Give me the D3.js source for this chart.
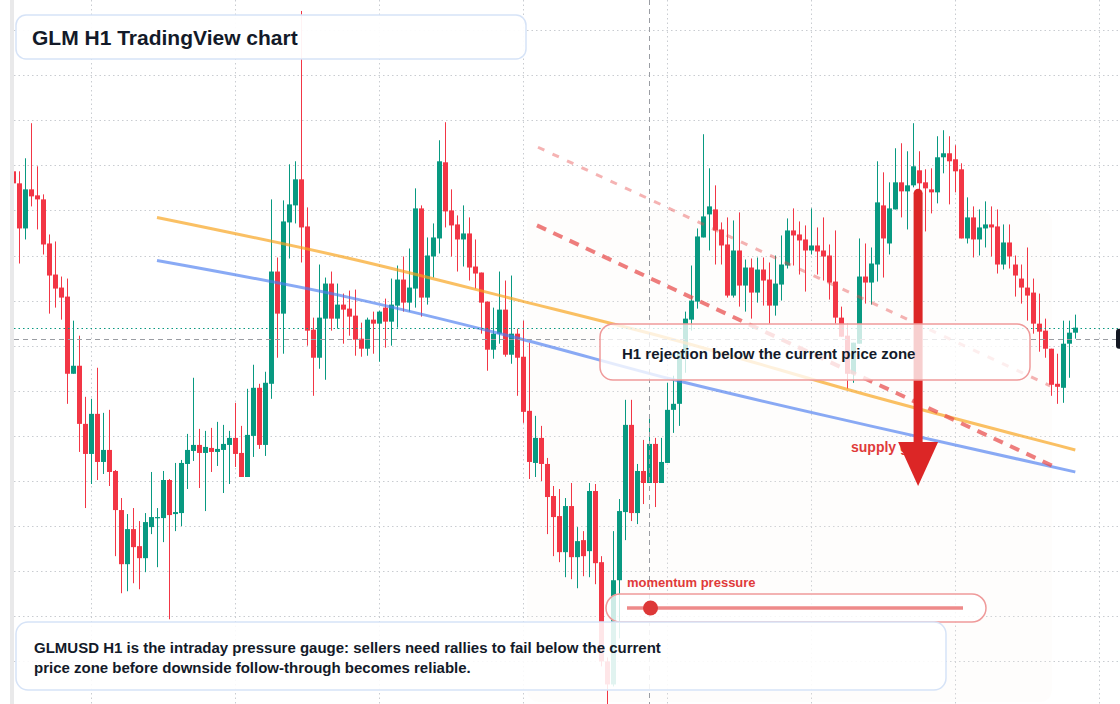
<!DOCTYPE html>
<html>
<head>
<meta charset="utf-8">
<script src="https://cdn.jsdelivr.net/npm/d3@7"></script>
<style>
  html, body { margin: 0; padding: 0; background: #fff; }
  svg { display: block; font-family: "Liberation Sans", Arial, Helvetica, sans-serif; }
</style>
</head>
<body>
<script>
const width = 1120, height = 704;
const upColor = '#089981', downColor = '#f23645';
const textColor = '#131a29';

// GLMUSD H1 candles, oldest first (the first bar sits half under the left edge)
const startTime = Date.UTC(2024, 4, 13, 11);
const open = [
  0.2559,0.2547,0.2502,0.2541,0.2535,0.2531,0.2487,0.2456,0.2443,0.2434,
  0.2357,0.2365,0.2307,0.2277,0.2317,0.2269,0.2281,0.2260,0.2221,0.2167,
  0.2202,0.2185,0.2173,0.2204,0.2213,0.2213,0.2251,0.2217,0.2218,0.2267,
  0.2280,0.2286,0.2278,0.2283,0.2279,0.2281,0.2286,0.2293,0.2278,0.2254,
  0.2295,0.2343,0.2286,0.2347,0.2459,0.2417,0.2508,0.2525,0.2551,0.2504,
  0.2401,0.2373,0.2412,0.2447,0.2412,0.2426,0.2422,0.2415,0.2392,0.2382,
  0.2411,0.2407,0.2423,0.2409,0.2425,0.2451,0.2428,0.2442,0.2522,0.2433,
  0.2474,0.2492,0.2568,0.2520,0.2506,0.2491,0.2497,0.2464,0.2458,0.2429,
  0.2381,0.2397,0.2421,0.2376,0.2397,0.2374,0.2320,0.2268,0.2293,0.2267,
  0.2235,0.2215,0.2179,0.2225,0.2174,0.2191,0.2180,0.2240,0.2169,0.2070,
  0.2047,0.2151,0.2219,0.2306,0.2218,0.2260,0.2248,0.2287,0.2248,0.2268,
  0.2321,0.2327,0.2377,0.2411,0.2429,0.2493,0.2516,0.2521,0.2501,0.2486,
  0.2435,0.2480,0.2445,0.2463,0.2438,0.2461,0.2451,0.2425,0.2446,0.2465,
  0.2500,0.2496,0.2491,0.2480,0.2485,0.2480,0.2475,0.2449,0.2413,0.2395,
  0.2357,0.2387,0.2454,0.2448,0.2466,0.2525,0.2487,0.2521,0.2548,0.2539,
  0.2545,0.2560,0.2548,0.2541,0.2538,0.2573,0.2577,0.2571,0.2561,0.2492,
  0.2513,0.2491,0.2502,0.2506,0.2504,0.2466,0.2488,0.2466,0.2452,0.2443,
  0.2438,0.2407,0.2400,0.2382,0.2347,0.2343,0.2387,0.2398
];
const high = [
  0.2561,0.2559,0.2572,0.2607,0.2564,0.2536,0.2496,0.2489,0.2454,0.2452,
  0.2410,0.2395,0.2334,0.2332,0.2363,0.2318,0.2321,0.2261,0.2233,0.2217,
  0.2223,0.2210,0.2218,0.2259,0.2223,0.2260,0.2252,0.2268,0.2271,0.2297,
  0.2353,0.2302,0.2300,0.2303,0.2309,0.2306,0.2300,0.2328,0.2305,0.2342,
  0.2366,0.2347,0.2359,0.2531,0.2473,0.2530,0.2566,0.2569,0.2719,0.2523,
  0.2413,0.2466,0.2453,0.2459,0.2447,0.2437,0.2440,0.2441,0.2408,0.2413,
  0.2419,0.2420,0.2432,0.2452,0.2465,0.2474,0.2482,0.2542,0.2525,0.2493,
  0.2507,0.2590,0.2608,0.2541,0.2515,0.2525,0.2513,0.2491,0.2458,0.2429,
  0.2423,0.2459,0.2450,0.2455,0.2402,0.2410,0.2388,0.2315,0.2305,0.2273,
  0.2245,0.2242,0.2233,0.2248,0.2204,0.2200,0.2248,0.2247,0.2175,0.2074,
  0.2200,0.2232,0.2331,0.2331,0.2267,0.2291,0.2315,0.2293,0.2293,0.2348,
  0.2355,0.2378,0.2419,0.2465,0.2502,0.2596,0.2562,0.2545,0.2508,0.2513,
  0.2510,0.2518,0.2471,0.2472,0.2473,0.2473,0.2468,0.2475,0.2495,0.2512,
  0.2522,0.2509,0.2505,0.2522,0.2503,0.2513,0.2486,0.2500,0.2424,0.2407,
  0.2388,0.2492,0.2487,0.2483,0.2569,0.2558,0.2548,0.2582,0.2587,0.2579,
  0.2607,0.2579,0.2561,0.2562,0.2594,0.2600,0.2594,0.2585,0.2567,0.2533,
  0.2524,0.2521,0.2529,0.2524,0.2521,0.2506,0.2506,0.2475,0.2466,0.2483,
  0.2452,0.2437,0.2412,0.2382,0.2377,0.2410,0.2410,0.2416
];
const low = [
  0.2544,0.2467,0.2491,0.2524,0.2501,0.2476,0.2417,0.2423,0.2411,0.2327,
  0.2357,0.2279,0.2223,0.2247,0.2251,0.2257,0.2245,0.2175,0.2138,0.2140,
  0.2148,0.2142,0.2159,0.2197,0.2164,0.2189,0.2112,0.2200,0.2205,0.2242,
  0.2270,0.2243,0.2220,0.2259,0.2265,0.2238,0.2247,0.2264,0.2254,0.2254,
  0.2274,0.2282,0.2275,0.2332,0.2373,0.2377,0.2472,0.2507,0.2468,0.2385,
  0.2335,0.2362,0.2351,0.2400,0.2402,0.2387,0.2395,0.2375,0.2374,0.2375,
  0.2377,0.2369,0.2383,0.2385,0.2403,0.2419,0.2419,0.2423,0.2414,0.2426,
  0.2453,0.2477,0.2503,0.2474,0.2459,0.2464,0.2450,0.2442,0.2397,0.2360,
  0.2372,0.2387,0.2374,0.2367,0.2335,0.2308,0.2252,0.2254,0.2250,0.2197,
  0.2175,0.2169,0.2154,0.2152,0.2143,0.2155,0.2154,0.2147,0.2065,0.2026,
  0.2045,0.2093,0.2191,0.2210,0.2207,0.2227,0.2248,0.2224,0.2248,0.2268,
  0.2298,0.2305,0.2358,0.2400,0.2422,0.2493,0.2480,0.2466,0.2466,0.2433,
  0.2433,0.2424,0.2419,0.2412,0.2428,0.2425,0.2407,0.2415,0.2430,0.2462,
  0.2465,0.2456,0.2439,0.2476,0.2456,0.2450,0.2431,0.2407,0.2394,0.2342,
  0.2348,0.2387,0.2427,0.2426,0.2449,0.2453,0.2476,0.2521,0.2513,0.2501,
  0.2543,0.2535,0.2499,0.2517,0.2527,0.2557,0.2526,0.2538,0.2492,0.2487,
  0.2473,0.2475,0.2483,0.2474,0.2457,0.2461,0.2462,0.2434,0.2427,0.2410,
  0.2397,0.2379,0.2373,0.2335,0.2327,0.2328,0.2353,0.2392
];
const close = [
  0.2547,0.2502,0.2541,0.2534,0.2531,0.2486,0.2455,0.2442,0.2433,0.2357,
  0.2365,0.2307,0.2277,0.2317,0.2269,0.2281,0.2259,0.2221,0.2167,0.2202,
  0.2184,0.2173,0.2209,0.2214,0.2214,0.2251,0.2216,0.2219,0.2268,0.2281,
  0.2286,0.2278,0.2284,0.2279,0.2282,0.2287,0.2293,0.2277,0.2254,0.2296,
  0.2343,0.2286,0.2348,0.2459,0.2417,0.2509,0.2526,0.2551,0.2503,0.2400,
  0.2373,0.2413,0.2447,0.2412,0.2426,0.2421,0.2414,0.2391,0.2382,0.2411,
  0.2407,0.2419,0.2409,0.2426,0.2451,0.2428,0.2443,0.2522,0.2433,0.2475,
  0.2493,0.2569,0.2519,0.2505,0.2491,0.2497,0.2463,0.2457,0.2428,0.2381,
  0.2397,0.2421,0.2376,0.2397,0.2373,0.2319,0.2269,0.2293,0.2267,0.2234,
  0.2214,0.2179,0.2225,0.2174,0.2190,0.2175,0.2240,0.2168,0.2070,0.2047,
  0.2151,0.2220,0.2306,0.2218,0.2260,0.2248,0.2287,0.2248,0.2269,0.2321,
  0.2327,0.2378,0.2412,0.2430,0.2494,0.2514,0.2524,0.2500,0.2485,0.2435,
  0.2480,0.2445,0.2463,0.2438,0.2461,0.2450,0.2425,0.2447,0.2466,0.2500,
  0.2495,0.2490,0.2480,0.2485,0.2479,0.2474,0.2448,0.2413,0.2394,0.2357,
  0.2388,0.2454,0.2448,0.2467,0.2528,0.2492,0.2522,0.2548,0.2539,0.2545,
  0.2564,0.2547,0.2542,0.2538,0.2573,0.2577,0.2569,0.2559,0.2492,0.2513,
  0.2491,0.2503,0.2506,0.2503,0.2466,0.2488,0.2474,0.2455,0.2443,0.2435,
  0.2407,0.2399,0.2382,0.2346,0.2344,0.2387,0.2398,0.2403
];

// price grid (no axis labels are shown on the picture)
const priceGrid = [0.2700, 0.2655, 0.2610, 0.2565, 0.2520, 0.2475, 0.2430, 0.2385,
                   0.2340, 0.2295, 0.2250, 0.2205, 0.2160, 0.2115, 0.2070, 0.2025];

// drawing tools, as [bar index, price]
const orangeTrend = [[23.95, 0.2513], [56.1, 0.2472], [84.45, 0.2430], [109.45, 0.2392], [142.8, 0.2335], [177, 0.2281]];
const blueTrend   = [[23.95, 0.2470], [56.1, 0.2433], [84.45, 0.2392], [109.45, 0.2352], [142.8, 0.2305], [177, 0.2259]];
const upperChannel = [[87.45, 0.2583], [172.8, 0.2345]];
const lowerChannel = [[87.28, 0.2505], [173.6, 0.2264]];
const crosshair = { bar: 106, price: 0.2392 };
const arrowFrom = { bar: 150.8, price: 0.2537 };
const arrowTo   = { bar: 150.8, price: 0.2245 };
const momentumLevel = 0.07;   // knob position on the momentum slider, 0..1

const barTime = i => new Date(startTime + i * 3600e3);
const bars = open.map((o, i) => ({ t: barTime(i), o: o, h: high[i], l: low[i], c: close[i] }));

const x = d3.scaleTime()
  .domain([barTime(0), barTime(177)])
  .range([13.3, 1075.3]);
const y = d3.scaleLinear()
  .domain([0.2700, 0.2070])
  .range([30, 661.4]);
const xb = i => x(barTime(i));

const svg = d3.select('body').append('svg')
  .attr('width', width)
  .attr('height', height);

svg.append('rect')
  .attr('width', width)
  .attr('height', height)
  .attr('fill', '#fff');

svg.append('defs').append('clipPath')
  .attr('id', 'plotClip')
  .append('rect')
  .attr('x', 14).attr('y', 0)
  .attr('width', width - 14).attr('height', height);

// left edge of the pane
svg.append('rect')
  .attr('x', 10).attr('y', 0)
  .attr('width', 4).attr('height', height)
  .attr('fill', '#e9e9ea');

// **** GRID ****
const grid = svg.append('g').attr('class', 'grid')
  .attr('stroke', '#c9ccd1')
  .attr('stroke-width', 1)
  .attr('stroke-dasharray', '1.5 3');

grid.selectAll('line.v')
  .data(d3.utcDay.range(barTime(0), barTime(190)))
  .join('line')
  .attr('class', 'v')
  .attr('x1', d => Math.round(x(d)) + 0.5)
  .attr('x2', d => Math.round(x(d)) + 0.5)
  .attr('y1', 0)
  .attr('y2', height);

grid.selectAll('line.h')
  .data(priceGrid)
  .join('line')
  .attr('class', 'h')
  .attr('x1', 14)
  .attr('x2', width)
  .attr('y1', d => Math.round(y(d)) + 0.5)
  .attr('y2', d => Math.round(y(d)) + 0.5);

// faint zone behind the right half
svg.append('rect')
  .attr('x', 527).attr('y', 210)
  .attr('width', 525).attr('height', 492)
  .attr('rx', 12)
  .attr('fill', '#fcf3ec')
  .attr('opacity', 0.18);

// **** CANDLES ****
const bodyW = 5;
const plot = svg.append('g').attr('clip-path', 'url(#plotClip)');

const candle = plot.selectAll('g.candle')
  .data(bars)
  .join('g')
  .attr('class', 'candle')
  .attr('fill', d => d.c >= d.o ? upColor : downColor)
  .attr('stroke', d => d.c >= d.o ? upColor : downColor);

candle.append('line')
  .attr('x1', d => Math.round(x(d.t) - bodyW / 2) + bodyW / 2)
  .attr('x2', d => Math.round(x(d.t) - bodyW / 2) + bodyW / 2)
  .attr('y1', d => y(d.h))
  .attr('y2', d => y(d.l))
  .attr('stroke-width', 1);

candle.append('rect')
  .attr('x', d => Math.round(x(d.t) - bodyW / 2))
  .attr('y', d => y(Math.max(d.o, d.c)))
  .attr('width', bodyW)
  .attr('height', d => Math.max(1.2, Math.abs(y(d.o) - y(d.c))))
  .attr('stroke', 'none');

// **** TREND LINES ****
const trendLine = d3.line()
  .x(d => xb(d[0]))
  .y(d => y(d[1]))
  .curve(d3.curveMonotoneX);

svg.append('path')
  .attr('d', trendLine(orangeTrend))
  .attr('fill', 'none')
  .attr('stroke', '#f7a21b')
  .attr('stroke-width', 3)
  .attr('stroke-opacity', 0.68);

svg.append('path')
  .attr('d', trendLine(blueTrend))
  .attr('fill', 'none')
  .attr('stroke', '#4a7cf0')
  .attr('stroke-width', 3)
  .attr('stroke-opacity', 0.65);

svg.append('path')
  .attr('d', trendLine(upperChannel))
  .attr('fill', 'none')
  .attr('stroke', '#e84b4b')
  .attr('stroke-width', 3)
  .attr('stroke-opacity', 0.42)
  .attr('stroke-dasharray', '7 9');

svg.append('path')
  .attr('d', trendLine(lowerChannel))
  .attr('fill', 'none')
  .attr('stroke', '#e84b4b')
  .attr('stroke-width', 4)
  .attr('stroke-opacity', 0.72)
  .attr('stroke-dasharray', '10 8');

// **** CROSSHAIR & LAST PRICE ****
const lastPrice = close[close.length - 1];

svg.append('line')
  .attr('x1', 14).attr('x2', width)
  .attr('y1', Math.round(y(lastPrice)) + 0.5)
  .attr('y2', Math.round(y(lastPrice)) + 0.5)
  .attr('stroke', upColor)
  .attr('stroke-width', 1)
  .attr('stroke-dasharray', '1.5 3');

svg.append('line')
  .attr('x1', 14).attr('x2', width)
  .attr('y1', Math.round(y(crosshair.price)) + 0.5)
  .attr('y2', Math.round(y(crosshair.price)) + 0.5)
  .attr('stroke', '#9a9da3')
  .attr('stroke-width', 1)
  .attr('stroke-dasharray', '5 4');

svg.append('line')
  .attr('x1', Math.round(xb(crosshair.bar)) + 0.5)
  .attr('x2', Math.round(xb(crosshair.bar)) + 0.5)
  .attr('y1', 0).attr('y2', height)
  .attr('stroke', '#9a9da3')
  .attr('stroke-width', 1)
  .attr('stroke-dasharray', '5 4');

// price label peeking in at the right edge
svg.append('rect')
  .attr('x', 1116)
  .attr('y', y(crosshair.price) - 10)
  .attr('width', 30).attr('height', 20)
  .attr('rx', 3)
  .attr('fill', '#131722');

// **** SUPPLY ARROW ****
svg.append('text')
  .attr('x', 851).attr('y', 452)
  .attr('fill', '#e03a3a')
  .style('font-size', '14px')
  .style('font-weight', 700)
  .text('supply gate');

const ax = xb(arrowFrom.bar);
const headTop = y(arrowTo.price) - 44;
svg.append('line')
  .attr('x1', ax).attr('x2', ax)
  .attr('y1', y(arrowFrom.price))
  .attr('y2', headTop + 4)
  .attr('stroke', '#dc2626')
  .attr('stroke-width', 9)
  .attr('stroke-linecap', 'round');

svg.append('path')
  .attr('d', `M${ax - 20},${headTop} L${ax + 20},${headTop} L${ax},${y(arrowTo.price)} Z`)
  .attr('fill', '#dc2626');

// **** NOTE BOXES ****
function box(x0, y0, w, h, r, stroke, opacity) {
  return svg.append('rect')
    .attr('x', x0).attr('y', y0)
    .attr('width', w).attr('height', h)
    .attr('rx', r)
    .attr('fill', '#fff')
    .attr('fill-opacity', opacity)
    .attr('stroke', stroke)
    .attr('stroke-width', 1.5);
}

box(600, 324, 430, 56, 13, '#ef9a9a', 0.78);
svg.append('text')
  .attr('x', 622).attr('y', 359)
  .attr('fill', textColor)
  .style('font-size', '15px')
  .style('font-weight', 700)
  .text('H1 rejection below the current price zone');

// momentum slider
svg.append('text')
  .attr('x', 627).attr('y', 587)
  .attr('fill', '#e03a3a')
  .style('font-size', '13px')
  .style('font-weight', 700)
  .text('momentum pressure');

box(606, 594, 380, 28, 14, '#ef9a9a', 0.8);
const slider = d3.scaleLinear().domain([0, 1]).range([627, 963]);
svg.append('line')
  .attr('x1', slider(0)).attr('x2', slider(1))
  .attr('y1', 608).attr('y2', 608)
  .attr('stroke', '#ee8a8a')
  .attr('stroke-width', 3.5);
svg.append('circle')
  .attr('cx', slider(momentumLevel))
  .attr('cy', 608)
  .attr('r', 7.5)
  .attr('fill', '#dd3838');

box(16, 622, 930, 68, 12, '#d6e3f7', 0.88);
svg.append('text')
  .attr('fill', textColor)
  .style('font-size', '15px')
  .style('font-weight', 700)
  .selectAll('tspan')
  .data(['GLMUSD H1 is the intraday pressure gauge: sellers need rallies to fail below the current',
         'price zone before downside follow-through becomes reliable.'])
  .join('tspan')
  .attr('x', 34)
  .attr('y', (d, i) => 653 + i * 20)
  .text(d => d);

box(16, 15, 510, 44, 10, '#d6e3f7', 0.94);
svg.append('text')
  .attr('x', 32).attr('y', 45)
  .attr('fill', textColor)
  .style('font-size', '21px')
  .style('font-weight', 700)
  .text('GLM H1 TradingView chart');
</script>
</body>
</html>
